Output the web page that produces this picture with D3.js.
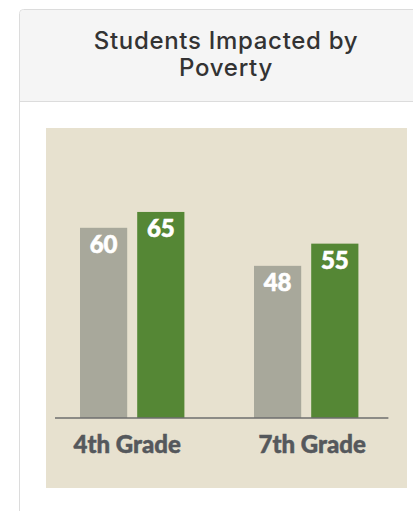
<!DOCTYPE html>
<html>
<head>
<meta charset="utf-8">
<script src="https://cdn.jsdelivr.net/npm/d3@7"></script>
<style>
  body { margin: 0; background: #fff; }
  svg { display: block; }
</style>
</head>
<body>
<svg width="413" height="511"></svg>
<script>
var titleLines = ["Students Impacted by", "Poverty"];
var grades = ["4th Grade", "7th Grade"];
var series = ["a", "b"];
var seriesA = [60, 48];
var seriesB = [65, 55];
var colors = ["#a8a89b", "#558735"];

var svg = d3.select("svg");

// panel + header
svg.append("rect")
    .attr("x", 19.5).attr("y", 9.5)
    .attr("width", 440).attr("height", 540)
    .attr("rx", 4)
    .style("fill", "#fff")
    .style("stroke", "#dcdcdc");

svg.append("path")
    .attr("d", "M20,101 V14 Q20,10 24,10 H460 V101 Z")
    .style("fill", "#f5f5f5");

svg.append("line")
    .attr("x1", 20).attr("x2", 460)
    .attr("y1", 101.5).attr("y2", 101.5)
    .style("stroke", "#dcdcdc");

svg.selectAll(".title")
    .data(titleLines)
    .enter().append("text")
    .attr("class", "title")
    .attr("x", 226)
    .attr("y", function(d, i) { return 49 + i * 27; })
    .attr("text-anchor", "middle")
    .style("font-family", "Inter, 'Open Sans', sans-serif")
    .style("font-weight", 500)
    .style("font-size", "24px")
    .style("letter-spacing", "0.7px")
    .style("fill", "#333")
    .text(function(d) { return d; });

// beige chart area
svg.append("rect")
    .attr("x", 46).attr("y", 128)
    .attr("width", 361).attr("height", 360)
    .style("fill", "#e7e1cf");

var data = grades.map(function(g, i) {
    return { grade: g, values: [seriesA[i], seriesB[i]] };
});

var x0 = d3.scaleBand().domain(grades).range([45.2, 393.2])
    .paddingInner(0.4).paddingOuter(0.2);
var x1 = d3.scaleBand().domain(series).range([0, x0.bandwidth()])
    .paddingInner(0.175).paddingOuter(0);
var yScale = d3.scaleLinear().domain([0, 100]).range([418, 101]);

var g = svg.append("g");

var groups = g.selectAll(".grp")
    .data(data)
    .enter().append("g")
    .attr("class", "grp")
    .attr("transform", function(d) { return "translate(" + x0(d.grade) + ",0)"; });

var bars = groups.selectAll(".bar")
    .data(function(d) { return d.values.map(function(v, i) { return { key: series[i], v: v, i: i }; }); })
    .enter();

bars.append("rect")
    .attr("class", "bar")
    .attr("x", function(d) { return x1(d.key); })
    .attr("y", function(d) { return yScale(d.v); })
    .attr("width", x1.bandwidth())
    .attr("height", function(d) { return yScale(0) - yScale(d.v); })
    .style("fill", function(d) { return colors[d.i]; });

bars.append("text")
    .attr("x", function(d) { return x1(d.key) + x1.bandwidth() / 2; })
    .attr("y", function(d) { return yScale(d.v) + 25; })
    .attr("text-anchor", "middle")
    .style("font-family", "Lato, sans-serif")
    .style("font-weight", 900)
    .style("font-size", "24px")
    .style("fill", "#fff")
    .style("stroke", "#fff")
    .style("stroke-width", 0.6)
    .text(function(d) { return d.v; });

// baseline
g.append("line")
    .attr("x1", x0(grades[0]) - 25)
    .attr("x2", x0(grades[1]) + x0.bandwidth() + 30)
    .attr("y1", yScale(0)).attr("y2", yScale(0))
    .style("stroke", "#6e6e6e")
    .style("stroke-width", 1.5);

g.selectAll(".cat")
    .data(grades)
    .enter().append("text")
    .attr("class", "cat")
    .attr("x", function(d, i) { return x0(d) + x0.bandwidth() / 2 + (i === 0 ? -5 : 6); })
    .attr("y", 453)
    .attr("text-anchor", "middle")
    .style("font-family", "Lato, sans-serif")
    .style("font-weight", 900)
    .style("font-size", "24px")
    .style("fill", "#55585c")
    .style("stroke", "#55585c")
    .style("stroke-width", 0.5)
    .text(function(d) { return d; });
</script>
</body>
</html>
